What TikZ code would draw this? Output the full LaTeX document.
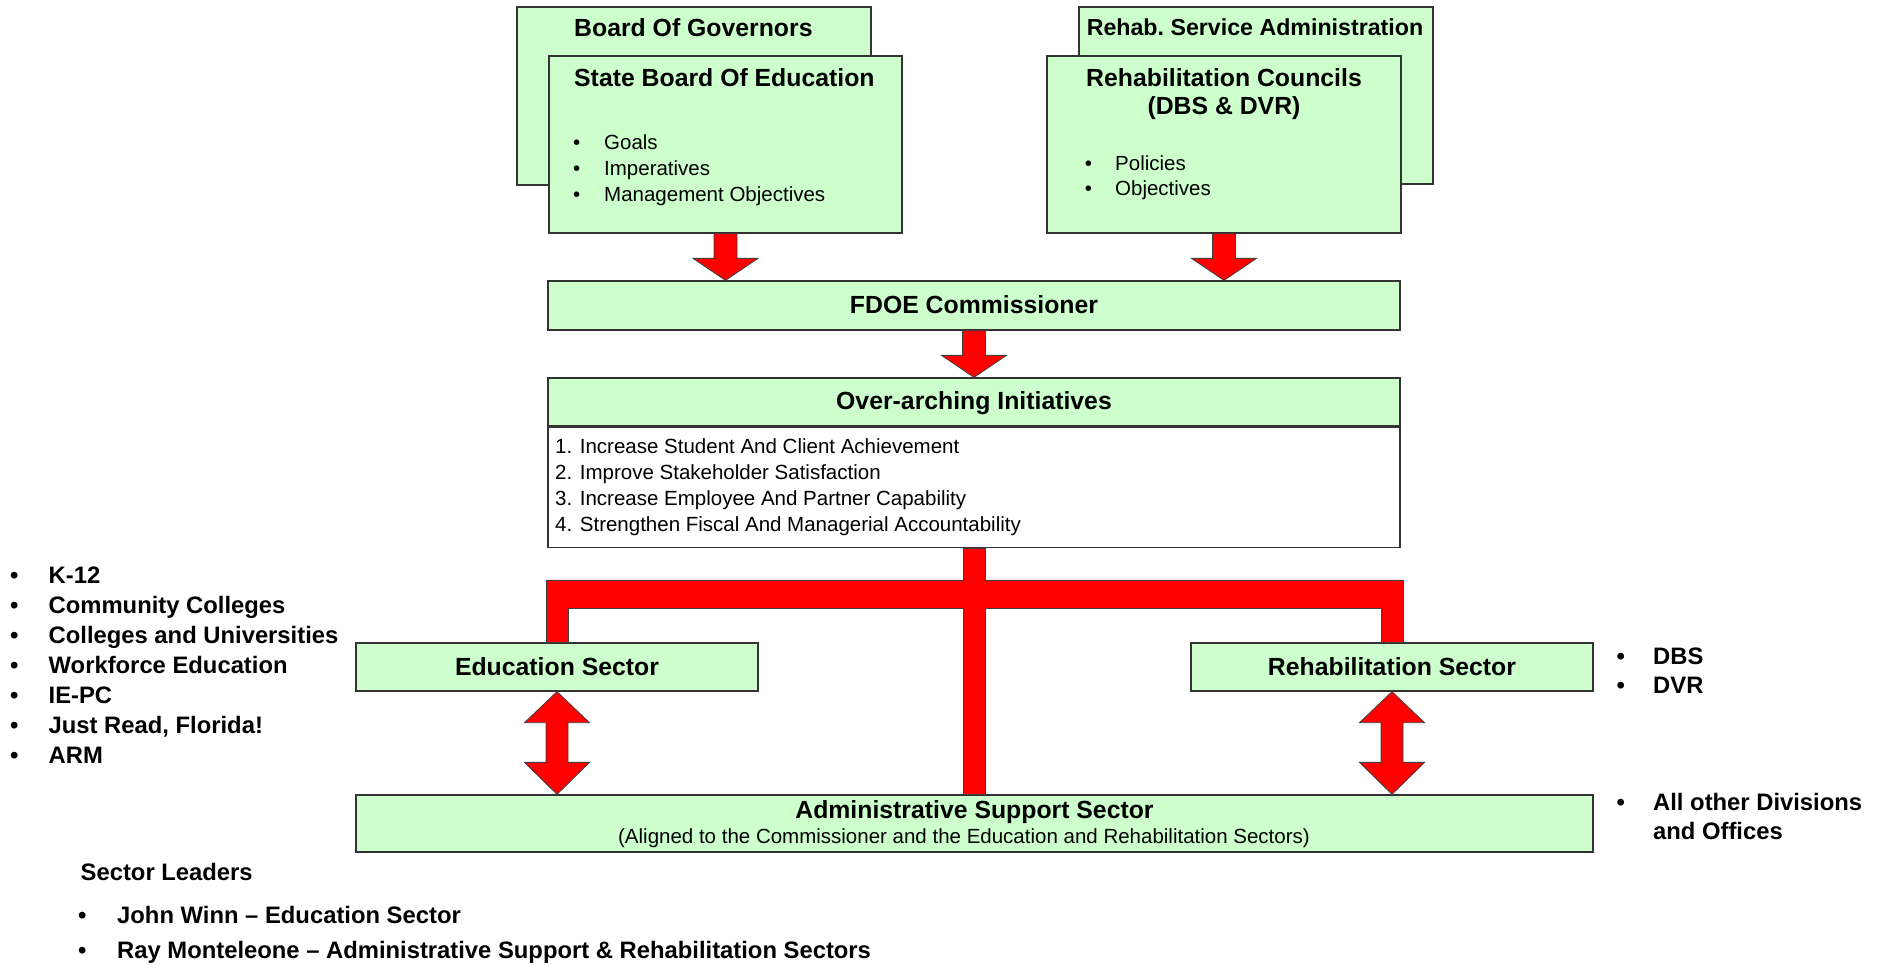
\documentclass[tikz,border=0pt]{standalone}
\usepackage{fontspec}
\setmainfont{Liberation Sans}
\usetikzlibrary{calc,positioning}

\definecolor{boxgreen}{HTML}{CCFFCC}
\definecolor{arrowred}{HTML}{FF0000}

\newcommand{\titlefnt}{\fontsize{24.8}{28}\selectfont\bfseries}
\newcommand{\itemfnt}{\fontsize{20.5}{24}\selectfont}
\newcommand{\sidefnt}{\fontsize{23.8}{28}\selectfont\bfseries}
\newcommand{\bul}[1]{\makebox[#1pt][l]{\textbullet}}

% block arrow pointing down, from #1 to the tip #2
\newcommand{\downblock}[2]{%
  \draw[redblock] ($(#1)+(-11.5,0)$) -- ($(#1)+(11.5,0)$) -- ($(#2)+(11.5,-22)$)
    -- ($(#2)+(32.5,-22)$) -- (#2) -- ($(#2)+(-32.5,-22)$) -- ($(#2)+(-11.5,-22)$) -- cycle;}
% block arrow with heads at both ends
\newcommand{\bothblock}[2]{%
  \draw[redblock] (#1) -- ($(#1)+(32.5,31)$) -- ($(#1)+(11,31)$) -- ($(#2)+(11,-32)$)
    -- ($(#2)+(32.5,-32)$) -- (#2) -- ($(#2)+(-32.5,-32)$) -- ($(#2)+(-11,-32)$)
    -- ($(#1)+(-11,31)$) -- ($(#1)+(-32.5,31)$) -- cycle;}

\tikzset{
  greenbox/.style={draw=black!80, fill=boxgreen, line width=1.3pt, inner sep=0pt},
  whitebox/.style={greenbox, fill=white},
  txt/.style={inner sep=0pt, anchor=base west},
  ctxt/.style={inner sep=0pt, anchor=base},
  redblock/.style={fill=arrowred, draw=black!75, line width=0.8pt, line join=miter},
}

\begin{document}
\begin{tikzpicture}[x=1pt, y=-1pt]
    \useasboundingbox (0,0) rectangle (1885,964);

    % boards on top (back box first)
    \node[greenbox, minimum width=354pt, minimum height=178pt] (gov) at (694,96) {};
    \node[greenbox, minimum width=353pt, minimum height=177pt] (sbe) at (725.5,144.5) {};
    \node[greenbox, minimum width=354pt, minimum height=177pt] (rsa) at (1256,95.5) {};
    \node[greenbox, minimum width=354pt, minimum height=177pt] (rc) at (1224,144.5) {};

    \node[txt] (govtitle) at (574,36) {\titlefnt Board Of Governors};
    \node[txt] (sbetitle) at (574,86) {\titlefnt State Board Of Education};
    \foreach \txt [count=\i] in {Goals, Imperatives, Management Objectives}
      \node[txt] (sbe-\i) at (573,123+26*\i) {\itemfnt\bul{31}\txt};

    \node[ctxt] (rsatitle) at (1255,35) {\fontsize{23.2}{28}\selectfont\bfseries Rehab.\ Service Administration};
    \node[ctxt] (rctitle) at (1224,86) {\titlefnt Rehabilitation Councils};
    \node[ctxt] (rcsub) at (1224,114) {\titlefnt (DBS \& DVR)};
    \foreach \txt [count=\i] in {Policies, Objectives}
      \node[txt] (rc-\i) at (1084.7,145+25*\i) {\itemfnt\bul{30.3}\txt};

    % commissioner and initiatives
    \node[greenbox, minimum width=852pt, minimum height=49pt] (fdoe) at (974,305.5) {};
    \node[ctxt] (fdoetext) at (974,313) {\titlefnt FDOE Commissioner};

    \node[greenbox, minimum width=852pt, minimum height=48pt] (oihead) at (974,402) {};
    \node[whitebox, minimum width=852pt, minimum height=120pt, below=0pt of oihead] (oilist) {};
    \node[ctxt] (oititle) at (974,409) {\titlefnt Over-arching Initiatives};
    \foreach \txt [count=\i] in {1. Increase Student And Client Achievement,
        2. Improve Stakeholder Satisfaction, 3. Increase Employee And Partner Capability,
        4. Strengthen Fiscal And Managerial Accountability}
      \node[txt] (oi-\i) at (555,427+26*\i) {\itemfnt\txt};

    % sectors
    \node[greenbox, minimum width=402pt, minimum height=48pt] (edu) at (557,667) {};
    \node[greenbox, minimum width=402pt, minimum height=48pt] (rehab) at (1392,667) {};
    \node[greenbox, minimum width=1237pt, minimum height=57pt] (admin) at (974.5,823.5) {};
    \node[ctxt] (edutext) at (557,675) {\titlefnt Education Sector};
    \node[ctxt] (rehabtext) at (1392,675) {\titlefnt Rehabilitation Sector};
    \node[ctxt] (admintitle) at (974.5,818) {\titlefnt Administrative Support Sector};
    \node[ctxt] (adminsub) at (964,843) {\itemfnt (Aligned to the Commissioner and the Education and Rehabilitation Sectors)};

    % red arrows
    \downblock{sbe.south}{sbe.south |- fdoe.north}
    \downblock{rc.south}{rc.south |- fdoe.north}
    \downblock{fdoe.south}{oihead.north}
    \bothblock{edu.south}{edu.south |- admin.north}
    \bothblock{rehab.south}{rehab.south |- admin.north}

    % branching bar down to the sectors
    \coordinate (hub) at ($(oilist.south)+(0,46)$);
    \draw[redblock] ($(oilist.south)+(-11,0)$) -- ($(oilist.south)+(11,0)$) -- ($(hub)+(11,-14)$)
      -- ($(rehab.north |- hub)+(11,-14)$) -- ($(rehab.north)+(11,0)$) -- ($(rehab.north)+(-11,0)$)
      -- ($(rehab.north |- hub)+(-11,14)$) -- ($(hub)+(11,14)$) -- ($(hub |- admin.north)+(11,0)$)
      -- ($(hub |- admin.north)+(-11,0)$) -- ($(hub)+(-11,14)$) -- ($(edu.north |- hub)+(11,14)$)
      -- ($(edu.north)+(11,0)$) -- ($(edu.north)+(-11,0)$) -- ($(edu.north |- hub)+(-11,-14)$)
      -- ($(hub)+(-11,-14)$) -- cycle;

    % side lists
    \foreach \txt [count=\i] in {K-12, Community Colleges, Colleges and Universities,
        Workforce Education, IE-PC, {Just Read, Florida!}, ARM}
      \node[txt] (edu-\i) at (10,553+30*\i) {\sidefnt\bul{38.5}\txt};
    \foreach \txt [count=\i] in {DBS, DVR}
      \node[txt] (rehab-\i) at (1616.4,635+29*\i) {\sidefnt\bul{36.6}\txt};
    \node[txt] (other) at (1616.4,810) {\sidefnt\bul{36.6}All other Divisions};
    \node[txt] (other2) at (1653,839) {\sidefnt and Offices};

    % leaders
    \node[txt] (leaders) at (80.5,880) {\sidefnt Sector Leaders};
    \node[txt] (lead-1) at (78,923) {\sidefnt\bul{39}John Winn -- Education Sector};
    \node[txt] (lead-2) at (78,958) {\sidefnt\bul{39}Ray Monteleone -- Administrative Support \& Rehabilitation Sectors};
  \end{tikzpicture}
\end{document}
